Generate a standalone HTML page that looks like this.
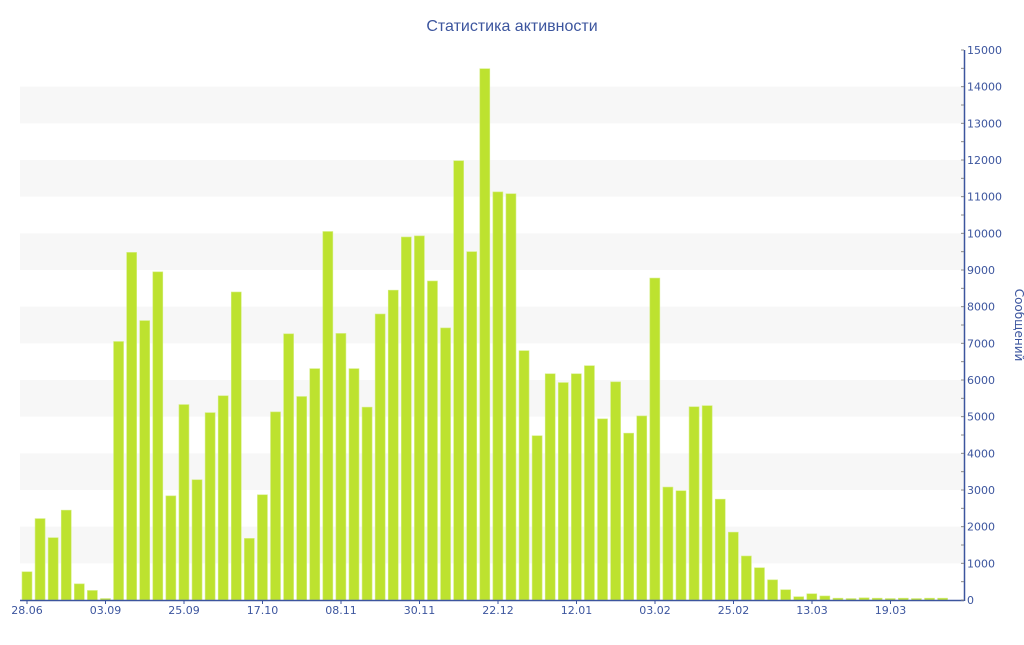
<!DOCTYPE html>
<html><head><meta charset="utf-8"><style>body{margin:0;background:#fff}</style></head>
<body>
<svg id="s" width="1024" height="640" xmlns="http://www.w3.org/2000/svg" font-family="Liberation Sans, DejaVu Sans, sans-serif">
<text x="512" y="31" text-anchor="middle" font-size="16" fill="#3c559e">Статистика активности</text>
<g id="bands"></g><g id="bars"></g><g id="axes" font-family="DejaVu Sans, sans-serif"></g>
<text transform="translate(1015,325) rotate(90)" text-anchor="middle" font-size="12" fill="#3c559e" font-family="DejaVu Sans, sans-serif">Сообщений</text>
</svg>
<script>
var ns="http://www.w3.org/2000/svg";
function el(p,t,a,txt){var e=document.createElementNS(ns,t);for(var k in a)e.setAttribute(k,a[k]);if(txt)e.textContent=txt;document.getElementById(p).appendChild(e);}
var Y=function(v){return 600-v*550/15000;};
for(var v=1000;v<15000;v+=2000)el("bands","rect",{x:20,y:Y(v+1000),width:944,height:Y(v)-Y(v+1000),fill:"#f7f7f7"});
var d=[770,2220,1700,2450,440,260,40,7050,9480,7620,8950,2840,5330,3280,5110,5570,8400,1680,2870,5130,7260,5550,6310,10050,7270,6310,5260,7800,8450,9900,9930,8700,7420,11980,9500,14490,11130,11080,6800,4480,6170,5930,6170,6390,4940,5950,4550,5020,8780,3080,2980,5270,5300,2750,1850,1200,880,550,280,90,170,110,50,40,60,50,40,50,40,50,50];
d.forEach(function(v,i){var c=27+13.08*i;el("bars","rect",{x:c-5,y:Y(v),width:10,height:600-Y(v),fill:"#bde22f",stroke:"#d4ee80","stroke-width":0.6});});
el("axes","line",{x1:20,y1:600.5,x2:964,y2:600.5,stroke:"#3c559e","stroke-width":1.5});
el("axes","line",{x1:964.5,y1:50,x2:964.5,y2:601,stroke:"#3c559e","stroke-width":1.5});
for(var v=0;v<=15000;v+=500){var y=Y(v);el("axes","line",{x1:961,y1:y,x2:964,y2:y,stroke:"#888","stroke-width":1});
if(v%1000==0)el("axes","text",{x:967,y:y+4,"font-size":11,fill:"#3c559e"},String(v));}
var L=["28.06","03.09","25.09","17.10","08.11","30.11","22.12","12.01","03.02","25.02","13.03","19.03"];
L.forEach(function(t,i){var x=27+78.5*i;el("axes","line",{x1:x,y1:600,x2:x,y2:604,stroke:"#3c559e"});el("axes","text",{x:x,y:614,"text-anchor":"middle","font-size":11,fill:"#3c559e"},t);});
</script>
</body></html>
